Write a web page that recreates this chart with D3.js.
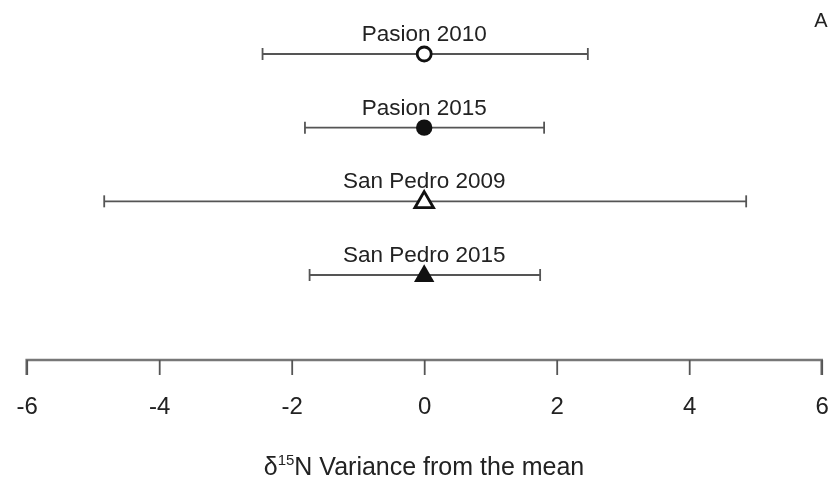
<!DOCTYPE html>
<html>
<head>
<meta charset="utf-8">
<script src="https://cdn.jsdelivr.net/npm/d3@7"></script>
<style>
  html, body { margin: 0; padding: 0; background: #fff; }
  svg { display: block; font-family: "Liberation Sans", Arial, Helvetica, sans-serif; filter: blur(0.4px); }
</style>
</head>
<body>
<svg id="chart" width="834" height="482"></svg>
<script>
const groups = ["Pasion 2010", "Pasion 2015", "San Pedro 2009", "San Pedro 2015"];
const means = [0, 0, 0, 0];
const lower = [-2.44, -1.80, -4.83, -1.73];
const upper = [2.47, 1.81, 4.86, 1.75];
const symbols = ["openCircle", "filledCircle", "openTriangle", "filledTriangle"];
const xTicks = [-6, -4, -2, 0, 2, 4, 6];
const xTitleMain = "Variance from the mean";
const panelLabel = "A";

const svg = d3.select("#chart");
const x = d3.scaleLinear().domain([-6, 6]).range([26.7, 821.7]);
const y = d3.scalePoint().domain(groups).range([54, 275]);

const data = groups.map((g, i) => ({ g, m: means[i], lo: lower[i], hi: upper[i], s: symbols[i] }));

const barColor = "#555";
const gBars = svg.append("g");
const rows = gBars.selectAll("g.row").data(data).join("g").attr("class", "row");

rows.append("line")
  .attr("x1", d => x(d.lo)).attr("x2", d => x(d.hi))
  .attr("y1", d => y(d.g)).attr("y2", d => y(d.g))
  .attr("stroke", barColor).attr("stroke-width", 1.8);
rows.append("line")
  .attr("x1", d => x(d.lo)).attr("x2", d => x(d.lo))
  .attr("y1", d => y(d.g) - 6).attr("y2", d => y(d.g) + 6)
  .attr("stroke", barColor).attr("stroke-width", 1.8);
rows.append("line")
  .attr("x1", d => x(d.hi)).attr("x2", d => x(d.hi))
  .attr("y1", d => y(d.g) - 6).attr("y2", d => y(d.g) + 6)
  .attr("stroke", barColor).attr("stroke-width", 1.8);

rows.append("text")
  .attr("x", d => x(d.m)).attr("y", d => y(d.g) - 13)
  .attr("text-anchor", "middle")
  .attr("font-size", 22.5).attr("fill", "#222")
  .text(d => d.g);

rows.each(function(d) {
  const g = d3.select(this);
  const cx = x(d.m), cy = y(d.g);
  if (d.s === "openCircle") {
    g.append("circle").attr("cx", cx).attr("cy", cy).attr("r", 7)
      .attr("fill", "#fff").attr("stroke", "#111").attr("stroke-width", 2.8);
  } else if (d.s === "filledCircle") {
    g.append("circle").attr("cx", cx).attr("cy", cy).attr("r", 8.2).attr("fill", "#111");
  } else {
    const tri = d3.symbol().type(d3.symbolTriangle).size(d.s === "openTriangle" ? 150 : 180);
    const p = g.append("path").attr("d", tri()).attr("transform", `translate(${cx},${cy + 1})`);
    if (d.s === "openTriangle") p.attr("fill", "#fff").attr("stroke", "#111").attr("stroke-width", 2.8);
    else p.attr("fill", "#111");
  }
});

// x axis
const axisY = 360;
const axis = svg.append("g").attr("transform", `translate(0,${axisY})`)
  .call(d3.axisBottom(x).tickValues(xTicks).tickSize(15).tickPadding(22).tickFormat(d3.format("d")));
axis.select(".domain").attr("stroke", "#777").attr("stroke-width", 2.6)
  .attr("d", `M${x(-6)},15V0H${x(6)}V15`);
axis.selectAll(".tick line").attr("stroke", "#555").attr("stroke-width", 1.8);
axis.selectAll(".tick text").attr("font-size", 24).attr("fill", "#222")
  .attr("font-family", "'Liberation Sans', Arial, sans-serif")
  .text(d => d < 0 ? "-" + Math.abs(d) : d);

// axis title
const title = svg.append("text").attr("x", 424).attr("y", 475)
  .attr("text-anchor", "middle").attr("font-size", 25).attr("fill", "#222");
title.append("tspan").text("δ");
title.append("tspan").attr("font-size", 15).attr("dy", -10).text("15");
title.append("tspan").attr("dy", 10).text("N " + xTitleMain);

svg.append("text").attr("x", 821).attr("y", 27).attr("text-anchor", "middle")
  .attr("font-size", 20).attr("fill", "#222").text(panelLabel);
</script>
</body>
</html>
